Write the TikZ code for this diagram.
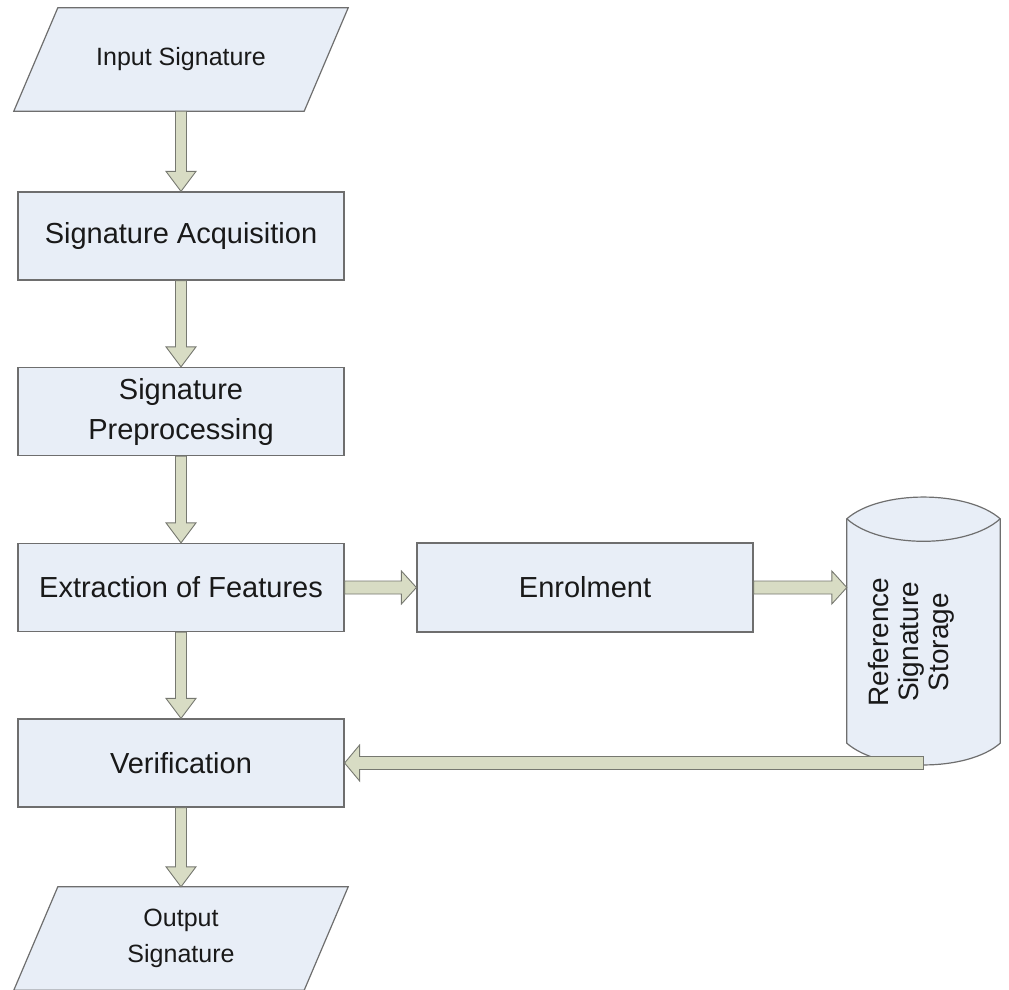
\documentclass[tikz,border=0pt]{standalone}
\usepackage{fontspec}
\setmainfont{Liberation Sans}
\usetikzlibrary{calc,backgrounds}

\definecolor{boxfill}{RGB}{232,238,247}
\definecolor{boxline}{RGB}{110,110,110}
\definecolor{arrowfill}{RGB}{216,220,196}
\definecolor{arrowline}{RGB}{118,120,112}
\definecolor{ink}{RGB}{25,25,25}

% Block arrow: #1 shaft half-width, #2 head half-width, #3 head length, #4 from, #5 to
\newcommand\blockarrow[5]{%
  \draw[flowarrow] let \p1=(#4), \p2=(#5),
    \n1={atan2(\y2-\y1,\x2-\x1)}, \n2={veclen(\x2-\x1,\y2-\y1)} in
    ([shift={(\p1)},rotate=\n1]0pt,#1) -- ([shift={(\p1)},rotate=\n1]\n2-#3,#1)
    -- ([shift={(\p1)},rotate=\n1]\n2-#3,#2) -- ([shift={(\p1)},rotate=\n1]\n2,0pt)
    -- ([shift={(\p1)},rotate=\n1]\n2-#3,-#2) -- ([shift={(\p1)},rotate=\n1]\n2-#3,-#1)
    -- ([shift={(\p1)},rotate=\n1]0pt,-#1) -- cycle;}

\tikzset{
  stepbox/.style={draw=boxline, fill=boxfill, line width=1.2pt, minimum width=326pt,
    minimum height=88pt, inner sep=0pt, text=ink, align=center,
    font=\fontsize{29}{40}\selectfont},
  iobox/.style={minimum width=334pt, minimum height=103pt, inner sep=0pt, text=ink,
    align=center, font=\fontsize{25}{36}\selectfont},
  outline/.style={draw=boxline, fill=boxfill, line width=1.2pt},
  flowarrow/.style={draw=arrowline, fill=arrowfill, line width=0.9pt, line join=miter},
}

\begin{document}
\begin{tikzpicture}[x=1pt,y=1pt]
  \useasboundingbox (0,0) rectangle (1009,-990);

  % main column
  \node[iobox] (input) at (181,-59.5) {Input Signature};
  \node[stepbox] (acq) at (181,-236) {Signature Acquisition};
  \node[stepbox] (pre) at (181,-411.5) {Signature\\Preprocessing};
  \node[stepbox] (ext) at (181,-587.5) {Extraction of Features};
  \node[stepbox] (ver) at (181,-763) {Verification};
  \node[iobox] (output) at (181,-938.5) {Output\\Signature};

  % enrolment branch
  \node[stepbox, minimum width=336pt, minimum height=89pt] (enrol) at (585,-587.5) {Enrolment};
  \node[minimum width=153pt, minimum height=224pt, inner sep=0pt] (store) at (923.5,-631) {};
  \node[rotate=90, align=center, text=ink, font=\fontsize{28}{30}\selectfont]
    (storetext) at (911,-642) {Reference\\Signature\\Storage};
  \coordinate (storefoot) at (store.south |- ver.east);

  \begin{scope}[on background layer]
    % input / output parallelograms
    \draw[outline] (input.south west) -- ([xshift=-44pt]input.south east)
      -- (input.north east) -- ([xshift=44pt]input.north west) -- cycle;
    \draw[outline] (output.south west) -- ([xshift=-44pt]output.south east)
      -- (output.north east) -- ([xshift=44pt]output.north west) -- cycle;
    % storage drum
    \draw[outline] (store.north west) -- (store.south west)
      .. controls ([xshift=33pt,yshift=-29pt]store.south west)
         and ([xshift=-33pt,yshift=-29pt]store.south east) .. (store.south east)
      -- (store.north east)
      .. controls ([xshift=-33pt,yshift=29pt]store.north east)
         and ([xshift=33pt,yshift=29pt]store.north west) .. (store.north west) -- cycle;
    \draw[draw=boxline, line width=1.2pt] (store.north west)
      .. controls ([xshift=33pt,yshift=-30pt]store.north west)
         and ([xshift=-33pt,yshift=-30pt]store.north east) .. (store.north east);
  \end{scope}

  % flow arrows
  \blockarrow{5.5pt}{15pt}{20pt}{input.south}{acq.north}
  \blockarrow{5.5pt}{15pt}{20pt}{acq.south}{pre.north}
  \blockarrow{5.5pt}{15pt}{20pt}{pre.south}{ext.north}
  \blockarrow{5.5pt}{15pt}{20pt}{ext.south}{ver.north}
  \blockarrow{5.5pt}{15pt}{20pt}{ver.south}{output.north}
  \blockarrow{6.5pt}{16.5pt}{15pt}{ext.east}{enrol.west}
  \blockarrow{6.5pt}{16.5pt}{15pt}{enrol.east}{store.west |- enrol.east}
  \blockarrow{6.5pt}{18pt}{15pt}{storefoot}{ver.east}
\end{tikzpicture}
\end{document}
